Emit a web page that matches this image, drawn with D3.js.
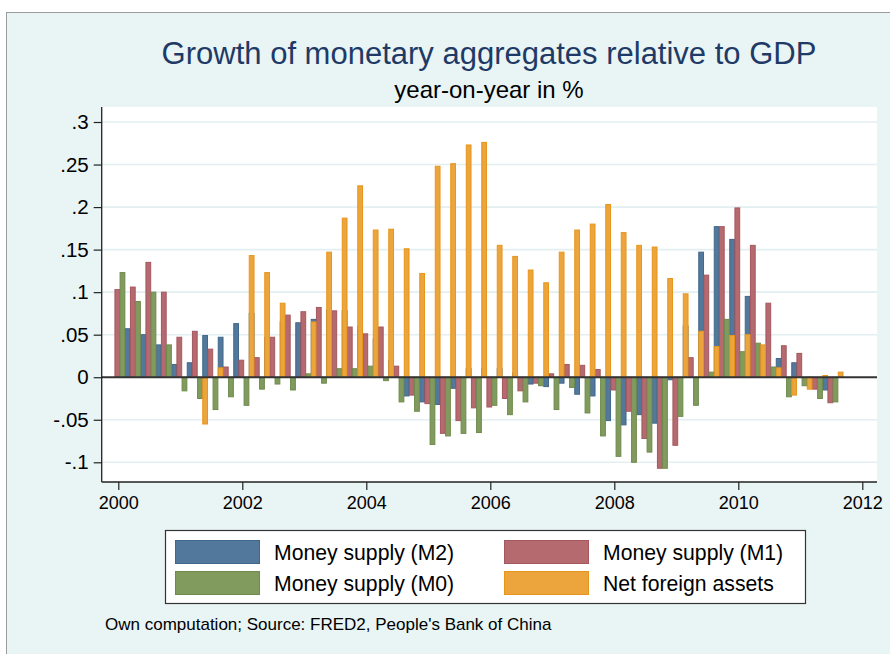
<!DOCTYPE html>
<html><head><meta charset="utf-8">
<script src="https://cdn.jsdelivr.net/npm/d3@7"></script>
<style>
body{margin:0;background:#fff}
svg{display:block}
text{font-family:"Liberation Sans",Arial,Helvetica,sans-serif}
</style>
</head><body>
<svg id="chart" width="890" height="654"></svg>
<script>
// ---------- data ----------
const quarters = ["2000Q1","2000Q2","2000Q3","2000Q4","2001Q1","2001Q2","2001Q3","2001Q4",
  "2002Q1","2002Q2","2002Q3","2002Q4","2003Q1","2003Q2","2003Q3","2003Q4",
  "2004Q1","2004Q2","2004Q3","2004Q4","2005Q1","2005Q2","2005Q3","2005Q4",
  "2006Q1","2006Q2","2006Q3","2006Q4","2007Q1","2007Q2","2007Q3","2007Q4",
  "2008Q1","2008Q2","2008Q3","2008Q4","2009Q1","2009Q2","2009Q3","2009Q4",
  "2010Q1","2010Q2","2010Q3","2010Q4","2011Q1","2011Q2","2011Q3"];
const m2 = [null,0.057,0.050,0.038,0.015,0.017,0.049,0.047,
  0.063,0.075,0.047,0.065,0.064,0.068,0.079,0.078,
  0.060,0.045,0.020,-0.022,-0.029,-0.032,-0.013,0.010,
  0.010,0.010,0.005,-0.008,-0.011,-0.007,-0.020,-0.022,
  -0.051,-0.056,-0.044,-0.054,-0.003,0.060,0.147,0.177,
  0.162,0.095,0.035,0.022,0.017,-0.010,-0.015];
const m1 = [0.103,0.106,0.135,0.100,0.047,0.054,0.033,0.012,
  0.020,0.023,0.047,0.073,0.077,0.082,0.078,0.059,
  0.051,0.059,0.013,-0.021,-0.031,-0.066,-0.051,-0.036,
  -0.035,-0.025,-0.016,-0.007,0.004,0.015,0.014,0.009,
  -0.015,-0.040,-0.072,-0.107,-0.080,0.023,0.120,0.177,
  0.199,0.155,0.087,0.037,0.028,-0.014,-0.030];
const m0 = [0.123,0.089,0.100,0.038,-0.016,-0.025,-0.038,-0.023,
  -0.033,-0.014,-0.008,-0.015,0.004,-0.007,0.010,0.010,
  0.013,-0.004,-0.029,-0.040,-0.079,-0.069,-0.066,-0.065,
  -0.033,-0.044,-0.029,-0.010,-0.038,-0.012,-0.042,-0.069,
  -0.093,-0.100,-0.088,-0.107,-0.046,-0.033,0.006,0.068,
  0.030,0.040,0.012,-0.023,-0.010,-0.025,-0.029];
const nfa = [null,null,null,null,null,-0.055,0.011,null,
  0.143,0.123,0.087,null,0.065,0.147,0.187,0.225,
  0.173,0.174,0.151,0.122,0.248,0.251,0.273,0.276,
  0.155,0.142,0.126,0.111,0.147,0.173,0.180,0.203,
  0.170,0.155,0.153,0.116,0.098,0.054,0.036,0.049,
  0.050,0.038,0.011,-0.021,-0.014,0.002,0.006];
const seriesNames = ["Money supply (M2)","Money supply (M1)","Money supply (M0)","Net foreign assets"];
const seriesFill = ["#52799c","#b56a70","#819b5f","#eca43c"];
const seriesStroke = ["#41678a","#a5575e","#6e8a4c","#e8951b"];
const yTicks = [-0.1,-0.05,0,0.05,0.1,0.15,0.2,0.25,0.3];
const yTickLabels = ["-.1","-.05","0",".05",".1",".15",".2",".25",".3"];
const xTicks = [2000,2002,2004,2006,2008,2010,2012];
const titleText = "Growth of monetary aggregates relative to GDP";
const subtitleText = "year-on-year in %";
const noteText = "Own computation; Source: FRED2, People's Bank of China";

// ---------- layout ----------
const svg = d3.select("#chart");
const W = 890, H = 654;
const plot = {left:101.7, right:877, top:107, bottom:482};

svg.append("rect").attr("width",W).attr("height",H).attr("fill","#fff");
svg.append("rect").attr("x",6.5).attr("y",12.5).attr("width",W+20).attr("height",H+20)
  .attr("fill","#e9f4f4").attr("stroke","#9c9c9c").attr("stroke-width",1);
svg.append("rect").attr("x",plot.left).attr("y",plot.top)
  .attr("width",plot.right-plot.left).attr("height",plot.bottom-plot.top).attr("fill","#fff");

const qDate = q => { const [yr, qq] = q.split("Q"); return +yr + (+qq - 1)/4; };
const x = d3.scaleLinear().domain([1999.7323, 2012.2371]).range([plot.left, plot.right]);
const y = d3.scaleLinear().domain([-0.1, 0.3]).range([462.3, 122]);

// grid
svg.append("g").selectAll("line").data(yTicks.filter(d=>d!==0)).join("line")
  .attr("x1",plot.left).attr("x2",plot.right)
  .attr("y1",d=>y(d)).attr("y2",d=>y(d))
  .attr("stroke","#e3eff1").attr("stroke-width",1.6);

// bars
const slot = 0.25/3;
const bw = x(slot) - x(0);
const series = [m2, m1, m0, nfa];
series.forEach((vals, k) => {
  const data = quarters.map((q,i)=>({t:qDate(q), v:vals[i]})).filter(d=>d.v!==null);
  svg.append("g").selectAll("rect").data(data).join("rect")
    .attr("x", d => x(d.t + (k - 1.75)*slot) + 0.5)
    .attr("width", bw - 0.4)
    .attr("y", d => Math.min(y(d.v), y(0)))
    .attr("height", d => Math.abs(y(d.v) - y(0)))
    .attr("fill", seriesFill[k]).attr("stroke", seriesStroke[k]).attr("stroke-width", 1);
});

// zero line
svg.append("line").attr("x1",plot.left).attr("x2",plot.right)
  .attr("y1",y(0)).attr("y2",y(0)).attr("stroke","#333").attr("stroke-width",2);

// axes
const yAxis = d3.axisLeft(y).tickValues(yTicks).tickFormat((d,i)=>yTickLabels[i]).tickSize(8).tickPadding(5);
const gy = svg.append("g").attr("transform",`translate(${plot.left},0)`).call(yAxis);
gy.select(".domain").attr("d",`M0,${plot.top}V${plot.bottom}`).attr("stroke","#222").attr("stroke-width",1.3);
gy.selectAll(".tick line").attr("stroke","#222").attr("stroke-width",1.2);
gy.selectAll(".tick text").attr("font-size",20.5).attr("fill","#000").attr("font-family","Liberation Sans, Arial, sans-serif");

const xAxis = d3.axisBottom(x).tickValues(xTicks).tickFormat(d3.format("d")).tickSize(8).tickPadding(6);
const gx = svg.append("g").attr("transform",`translate(0,${plot.bottom})`).call(xAxis);
gx.select(".domain").attr("d",`M${plot.left},0H${plot.right}`).attr("stroke","#222").attr("stroke-width",1.3);
gx.selectAll(".tick line").attr("stroke","#222").attr("stroke-width",1.2);
gx.selectAll(".tick text").attr("font-size",18).attr("fill","#000").attr("font-family","Liberation Sans, Arial, sans-serif");

// titles
svg.append("text").attr("x",489).attr("y",64).attr("text-anchor","middle")
  .attr("font-size",31).attr("fill","#1f3a66").text(titleText);
svg.append("text").attr("x",489).attr("y",98).attr("text-anchor","middle")
  .attr("font-size",24).attr("fill","#000").text(subtitleText);

// legend
const lg = svg.append("g");
lg.append("rect").attr("x",165.5).attr("y",530.5).attr("width",640).attr("height",73)
  .attr("fill","#fff").attr("stroke","#333").attr("stroke-width",1.2);
const legendPos = [[175,540],[504,540],[175,571],[504,571]];
seriesNames.forEach((name,k)=>{
  const [lx,ly] = legendPos[k];
  lg.append("rect").attr("x",lx+0.5).attr("y",ly+0.5).attr("width",84).attr("height",23)
    .attr("fill",seriesFill[k]).attr("stroke",seriesStroke[k]).attr("stroke-width",1);
  lg.append("text").attr("x",lx+99).attr("y",ly+19.5).attr("font-size",21.2).attr("fill","#000").text(name);
});

// note
svg.append("text").attr("x",105).attr("y",630).attr("font-size",17).attr("fill","#000").text(noteText);
</script>
</body></html>
